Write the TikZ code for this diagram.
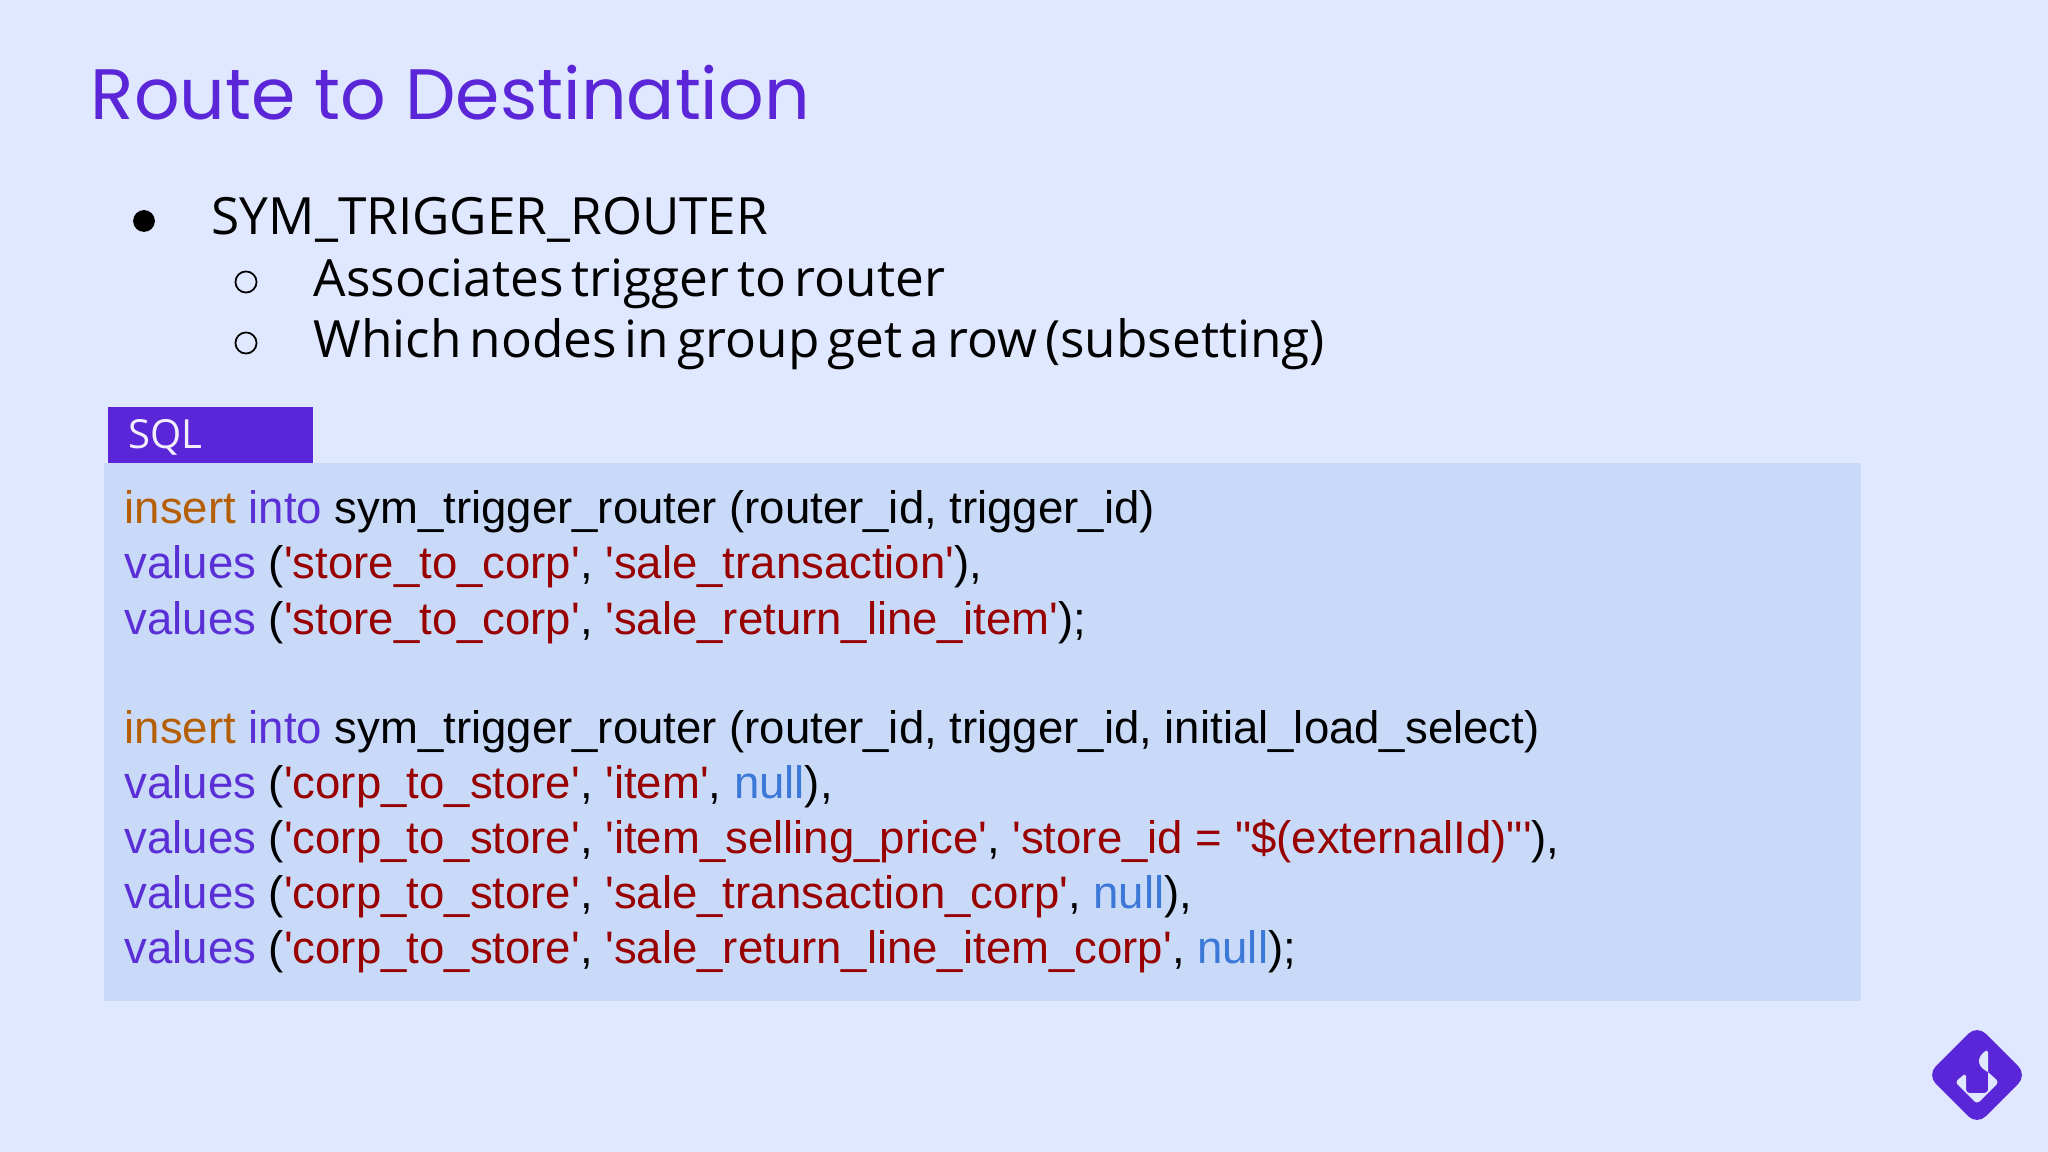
\documentclass[tikz,border=0pt]{standalone}
\usepackage{fontspec}
\usepackage{xcolor}
\setmainfont{Open Sans}[WordSpace=0.6]
\newfontfamily\titlefont{Poppins}
\newfontfamily\codefont{Liberation Sans}
\definecolor{slidebg}{HTML}{E0E8FF}
\definecolor{codebg}{HTML}{C8DAF8}
\definecolor{brandpurple}{HTML}{5A26D8}
\definecolor{kwinsert}{HTML}{B45F06}
\definecolor{kwinto}{HTML}{5B2FD6}
\definecolor{kwstring}{HTML}{990000}
\definecolor{kwnull}{HTML}{3C78D8}
\newcommand{\ins}[1]{\textcolor{kwinsert}{#1}}
\newcommand{\kw}[1]{\textcolor{kwinto}{#1}}
\newcommand{\str}[1]{\textcolor{kwstring}{#1}}
\newcommand{\nul}{\textcolor{kwnull}{null}}
\begin{document}
\begin{tikzpicture}[x=.01cm, y=-.01cm,
  txt/.style={anchor=base west, inner sep=0pt},
  bullettxt/.style={txt, font=\fontsize{14.6}{16}\selectfont},
  codeline/.style={txt, font=\codefont\fontsize{12.95}{14}\selectfont},
  hollow/.style={draw, circle, inner sep=0pt, minimum size=6pt, line width=.5pt}]
  \useasboundingbox (0,0) rectangle (2048,1152);
  \fill[slidebg] (0,0) rectangle (2048,1152);
  \node[txt, text=brandpurple, font=\titlefont\fontsize{20.3}{24}\selectfont] (title) at (90,120) {Route to Destination};
  % bullets
  \node[fill, circle, inner sep=0pt, minimum size=6.2pt] (dot) at (144,221) {};
  \node[bullettxt] (head) at (211,235) {SYM\_TRIGGER\_ROUTER};
  \node[hollow] (ringa) at (246,282) {};
  \node[bullettxt] (suba) at (313,297) {Associates trigger to router};
  \node[hollow] (ringb) at (246,343) {};
  \node[bullettxt] (subb) at (313,358) {Which nodes in group get a row (subsetting)};
  % code panel
  \fill[codebg] (104,463) rectangle (1861,1001);
  \fill[brandpurple] (107.5,407) rectangle (312.5,463);
  \node[txt, text=white!92!brandpurple, font=\fontsize{11.4}{14}\selectfont] (sqltag) at (128,449) {SQL};
  \node[codeline] (codea) at (124,524) {\ins{insert} \kw{into} sym\_trigger\_router (router\_id, trigger\_id)};
  \node[codeline] (codeb) at (124,579) {\kw{values} (\str{'store\_to\_corp'}, \str{'sale\_transaction'}),};
  \node[codeline] (codec) at (124,634) {\kw{values} (\str{'store\_to\_corp'}, \str{'sale\_return\_line\_item'});};
  \node[codeline] (coded) at (124,743) {\ins{insert} \kw{into} sym\_trigger\_router (router\_id, trigger\_id, initial\_load\_select)};
  \node[codeline] (codee) at (124,798) {\kw{values} (\str{'corp\_to\_store'}, \str{'item'}, \nul),};
  \node[codeline] (codef) at (124,853) {\kw{values} (\str{'corp\_to\_store'}, \str{'item\_selling\_price'}, \str{'store\_id = "\$(externalId)"'}),};
  \node[codeline] (codeg) at (124,908) {\kw{values} (\str{'corp\_to\_store'}, \str{'sale\_transaction\_corp'}, \nul),};
  \node[codeline] (codeh) at (124,963) {\kw{values} (\str{'corp\_to\_store'}, \str{'sale\_return\_line\_item\_corp'}, \nul);};
  % logo
  \fill[brandpurple, rounded corners=3.5pt] (1977,1025) -- (2027,1075) -- (1977,1125) -- (1927,1075) -- cycle;
  \fill[slidebg, rounded corners=1pt] (1988,1049) .. controls (1976,1058) and (1978,1066) .. (1988,1072)
    -- (1999,1082) -- (1977,1104) -- (1955,1082) -- (1966,1073) -- (1966,1093) -- (1988,1093) -- cycle;
\end{tikzpicture}
\end{document}
